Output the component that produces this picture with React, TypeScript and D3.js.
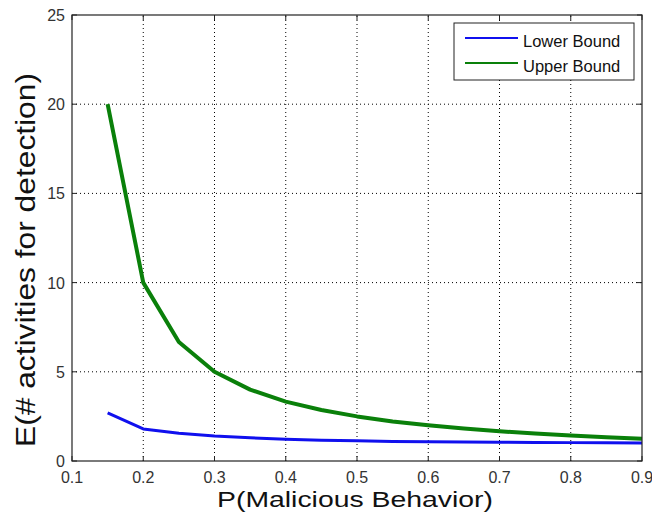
import React, { useEffect, useRef } from "react";
import * as d3 from "d3";

const P_VALUES = [0.15, 0.2, 0.25, 0.3, 0.35, 0.4, 0.45, 0.5, 0.55, 0.6, 0.65, 0.7, 0.75, 0.8, 0.85, 0.9];
const LOWER = [2.7, 1.8, 1.55, 1.4, 1.3, 1.22, 1.17, 1.13, 1.1, 1.08, 1.06, 1.05, 1.04, 1.03, 1.02, 1.01];
const UPPER = [20, 10, 6.67, 5, 4, 3.33, 2.86, 2.5, 2.22, 2, 1.82, 1.67, 1.54, 1.43, 1.33, 1.25];
const X_TICKS = [0.1, 0.2, 0.3, 0.4, 0.5, 0.6, 0.7, 0.8, 0.9];
const Y_TICKS = [0, 5, 10, 15, 20, 25];
const SERIES = [
  { name: "Lower Bound", values: LOWER, color: "#1010ee", width: 3 },
  { name: "Upper Bound", values: UPPER, color: "#0a800a", width: 4 },
];

const W = 652, H = 518;
const M = { left: 72, right: 10, top: 15, bottom: 57 };

export default function App() {
  const ref = useRef<SVGSVGElement>(null);

  useEffect(() => {
    const svg = d3.select(ref.current);
    svg.selectAll("*").remove();
    const x = d3.scaleLinear().domain([0.1, 0.9]).range([M.left, W - M.right]);
    const y = d3.scaleLinear().domain([0, 25]).range([H - M.bottom, M.top]);
    const font = "Liberation Sans, Arial, sans-serif";

    svg.append("rect").attr("width", W).attr("height", H).attr("fill", "#fff");

    // grid
    const grid = svg.append("g").attr("stroke", "#000").attr("stroke-width", 1).attr("stroke-dasharray", "1 3");
    X_TICKS.slice(1, -1).forEach(t => {
      grid.append("line").attr("x1", x(t)).attr("x2", x(t)).attr("y1", y(0)).attr("y2", y(25));
    });
    Y_TICKS.slice(1, -1).forEach(t => {
      grid.append("line").attr("x1", x(0.1)).attr("x2", x(0.9)).attr("y1", y(t)).attr("y2", y(t));
    });

    // lines
    SERIES.forEach(s => {
      const line = d3.line<number>().x((_, i) => x(P_VALUES[i])).y(d => y(d));
      svg.append("path").datum(s.values).attr("d", line).attr("fill", "none")
        .attr("stroke", s.color).attr("stroke-width", s.width).attr("stroke-linejoin", "round");
    });

    // axes box and ticks
    svg.append("rect").attr("x", x(0.1)).attr("y", y(25)).attr("width", x(0.9) - x(0.1)).attr("height", y(0) - y(25))
      .attr("fill", "none").attr("stroke", "#222").attr("stroke-width", 1.2);
    const ticks = svg.append("g").attr("stroke", "#222").attr("stroke-width", 1);
    X_TICKS.forEach(t => {
      ticks.append("line").attr("x1", x(t)).attr("x2", x(t)).attr("y1", y(0)).attr("y2", y(0) - 5);
      ticks.append("line").attr("x1", x(t)).attr("x2", x(t)).attr("y1", y(25)).attr("y2", y(25) + 5);
    });
    Y_TICKS.forEach(t => {
      ticks.append("line").attr("x1", x(0.1)).attr("x2", x(0.1) + 5).attr("y1", y(t)).attr("y2", y(t));
      ticks.append("line").attr("x1", x(0.9)).attr("x2", x(0.9) - 5).attr("y1", y(t)).attr("y2", y(t));
    });

    // tick labels
    X_TICKS.forEach(t => {
      svg.append("text").attr("x", x(t)).attr("y", y(0) + 22).attr("text-anchor", "middle")
        .attr("font-family", font).attr("font-size", 16).attr("fill", "#333").text(String(t));
    });
    Y_TICKS.forEach(t => {
      svg.append("text").attr("x", x(0.1) - 7).attr("y", y(t) + 6).attr("text-anchor", "end")
        .attr("font-family", font).attr("font-size", 16).attr("fill", "#333").text(String(t));
    });

    // axis titles (the picture is stretched sideways, so fix the lengths)
    svg.append("text").attr("x", 355).attr("y", 507).attr("text-anchor", "middle")
      .attr("font-family", font).attr("font-size", 22).attr("fill", "#111")
      .attr("textLength", 276).attr("lengthAdjust", "spacingAndGlyphs").text("P(Malicious Behavior)");
    svg.append("text").attr("transform", "translate(35,260) rotate(-90)").attr("text-anchor", "middle")
      .attr("font-family", font).attr("font-size", 27).attr("fill", "#111")
      .attr("textLength", 374).attr("lengthAdjust", "spacingAndGlyphs").text("E(# activities for detection)");

    // legend
    const lg = svg.append("g");
    lg.append("rect").attr("x", 454).attr("y", 23).attr("width", 180).attr("height", 57)
      .attr("fill", "#fff").attr("stroke", "#222").attr("stroke-width", 1);
    SERIES.forEach((s, i) => {
      const ly = 38 + i * 25;
      lg.append("line").attr("x1", 465).attr("x2", 518).attr("y1", ly).attr("y2", ly)
        .attr("stroke", s.color).attr("stroke-width", 2);
      lg.append("text").attr("x", 523).attr("y", ly + 9).attr("font-family", font).attr("font-size", 16.5)
        .attr("fill", "#111").text(s.name);
    });
  }, []);

  return <svg ref={ref} width={W} height={H} style={{ display: "block", position: "absolute", left: 0, top: 0 }} />;
}
